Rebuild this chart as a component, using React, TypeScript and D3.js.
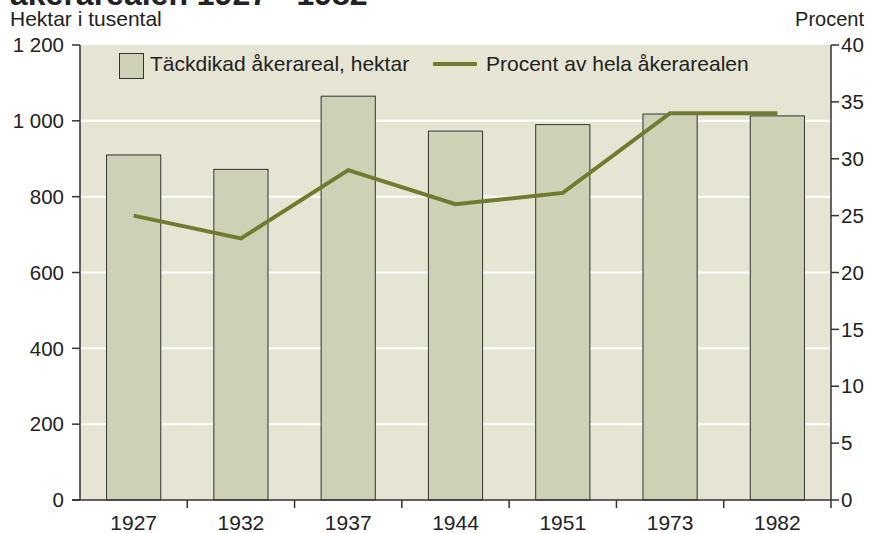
import React from "react";
import * as d3 from "d3";

const years = ["1927", "1932", "1937", "1944", "1951", "1973", "1982"];
const hectares = [910, 872, 1065, 973, 990, 1018, 1013];
const percent = [25, 23, 29, 26, 27, 34, 34];
const leftTicks = [0, 200, 400, 600, 800, 1000, 1200];
const rightTicks = [0, 5, 10, 15, 20, 25, 30, 35, 40];

const W = 869, H = 533;
const M = { left: 80, right: 831, top: 45, bottom: 500 };
const FONT = "'Liberation Sans', Arial, sans-serif";
const AX = "#333";
const FS = 21;

export default function App() {
  const x = d3.scaleBand<string>().domain(years).range([M.left, M.right]).paddingInner(0).paddingOuter(0);
  const yL = d3.scaleLinear().domain([0, 1200]).range([M.bottom, M.top]);
  const yR = d3.scaleLinear().domain([0, 40]).range([M.bottom, M.top]);
  const bw = x.bandwidth() * 0.505;
  const line = d3.line<number>()
    .x((_, i) => (x(years[i]) as number) + x.bandwidth() / 2)
    .y((d) => yR(d));
  const fmt = (v: number) => (v >= 1000 ? d3.format(",")(v).replace(",", " ") : String(v));
  const boundaries = years.map((_, i) => M.left + x.bandwidth() * (i + 1));

  return (
    <svg width={W} height={H} style={{ position: "absolute", left: 0, top: 0, background: "#fff" }} fontFamily={FONT}>
      <text x={10} y={5} fontSize={32} fontWeight="bold" fill="#222">åkerarealen 1927 - 1982</text>
      <text x={10} y={26} fontSize={FS} fill="#222">Hektar i tusental</text>
      <text x={864} y={26} fontSize={20} fill="#222" textAnchor="end">Procent</text>

      <rect x={M.left} y={M.top} width={M.right - M.left} height={M.bottom - M.top} fill="#e6e4d2" />
      {leftTicks.filter((t) => t > 0 && t < 1200).map((t) => (
        <line key={t} x1={M.left} x2={M.right} y1={yL(t)} y2={yL(t)} stroke="#fff" strokeWidth={2} />
      ))}

      {years.map((yr, i) => {
        const cx = (x(yr) as number) + x.bandwidth() / 2;
        return (
          <rect key={yr} x={cx - bw / 2} y={yL(hectares[i])} width={bw} height={M.bottom - yL(hectares[i])}
            fill="#ced1b5" stroke={AX} strokeWidth={1} />
        );
      })}

      <path d={line(percent) || ""} fill="none" stroke="#717a2f" strokeWidth={4} strokeLinejoin="miter" />

      {/* legend */}
      <rect x={119.5} y={53.5} width={24} height={25} fill="#ced1b5" stroke={AX} strokeWidth={1} />
      <text x={150} y={71} fontSize={FS} fill="#222">Täckdikad åkerareal, hektar</text>
      <line x1={433} x2={477} y1={64} y2={64} stroke="#717a2f" strokeWidth={4} />
      <text x={486} y={71} fontSize={FS} fill="#222">Procent av hela åkerarealen</text>

      {/* left axis */}
      <line x1={M.left} x2={M.left} y1={M.top} y2={M.bottom} stroke={AX} strokeWidth={1.5} />
      {leftTicks.map((t) => (
        <g key={t}>
          <line x1={M.left - 8} x2={M.left} y1={yL(t)} y2={yL(t)} stroke={AX} strokeWidth={1.5} />
          <text x={M.left - 16} y={yL(t)} dy="0.35em" fontSize={20.5} textAnchor="end" fill="#222">{fmt(t)}</text>
        </g>
      ))}
      {/* right axis */}
      <line x1={M.right} x2={M.right} y1={M.top} y2={M.bottom} stroke={AX} strokeWidth={1.5} />
      {rightTicks.map((t) => (
        <g key={t}>
          <line x1={M.right} x2={M.right + 8} y1={yR(t)} y2={yR(t)} stroke={AX} strokeWidth={1.5} />
          <text x={M.right + 10} y={yR(t)} dy="0.35em" fontSize={20.5} fill="#222">{t}</text>
        </g>
      ))}
      {/* bottom axis */}
      <line x1={M.left - 8} x2={M.right} y1={M.bottom} y2={M.bottom} stroke={AX} strokeWidth={1.5} />
      {boundaries.map((bx, i) => (
        <line key={i} x1={bx} x2={bx} y1={M.bottom} y2={M.bottom + 8} stroke={AX} strokeWidth={1.5} />
      ))}
      {years.map((yr) => (
        <text key={yr} x={(x(yr) as number) + x.bandwidth() / 2} y={530} fontSize={FS} textAnchor="middle" fill="#222">{yr}</text>
      ))}
    </svg>
  );
}
